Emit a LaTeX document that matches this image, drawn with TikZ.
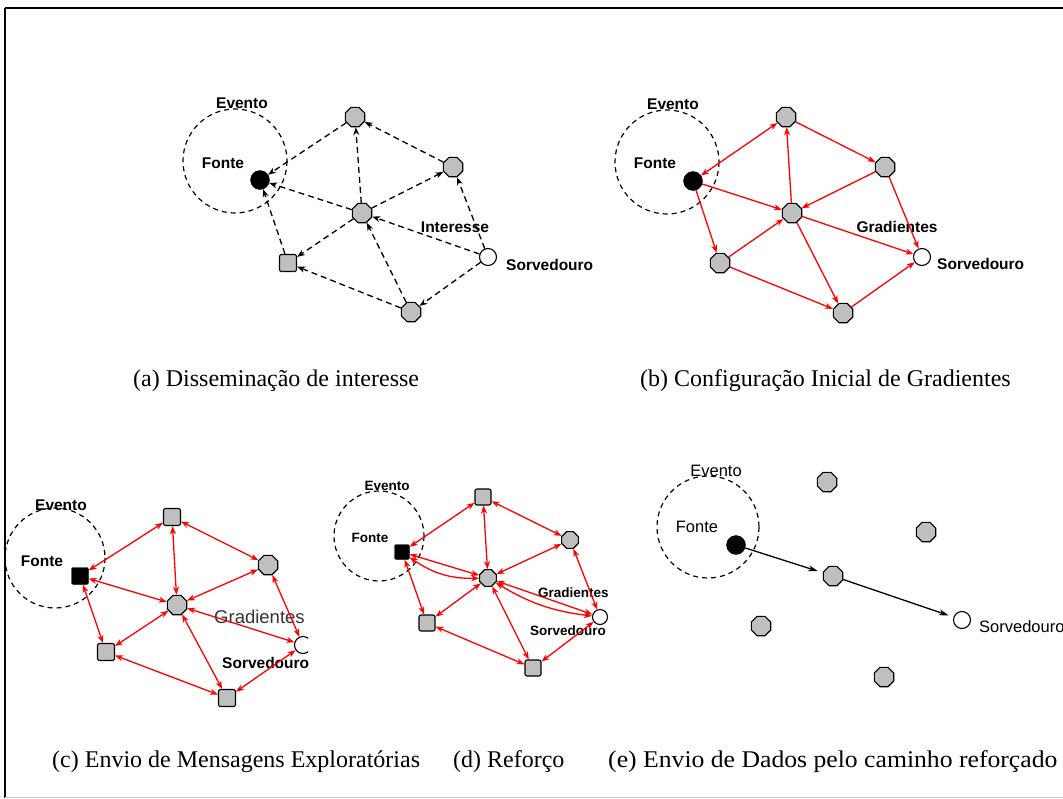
\documentclass[tikz,border=0pt]{standalone}
\usepackage{fontspec}
\setmainfont{Liberation Serif}
\setsansfont{Liberation Sans}
\usetikzlibrary{arrows.meta,shapes.geometric}
\tikzset{
  gnode/.style={regular polygon,regular polygon sides=8,draw=black,fill=gray!50,line width=1.1pt,minimum size=21pt,inner sep=0pt},
  gsq/.style={rectangle,rounded corners=2pt,draw=black,fill=gray!50,line width=1.1pt,minimum size=17pt,inner sep=0pt},
  srcnode/.style={circle,fill=black,draw=black,minimum size=19pt,inner sep=0pt},
  srcsq/.style={rectangle,rounded corners=2pt,fill=black,draw=black,minimum size=17pt,inner sep=0pt},
  snk/.style={circle,draw=black,fill=white,line width=1.1pt,minimum size=17pt,inner sep=0pt},
  evc/.style={draw=black,dashed,dash pattern=on 5pt off 4pt,line width=1.2pt},
  lbl/.style={font=\sffamily\bfseries\fontsize{15.5}{17}\selectfont,inner sep=0pt},
  dlbl/.style={font=\sffamily\bfseries\fontsize{13.5}{15}\selectfont,inner sep=0pt},
  elbl/.style={font=\sffamily\fontsize{16.5}{18}\selectfont,inner sep=0pt},
  captext/.style={font=\fontsize{24}{27}\selectfont,anchor=west,inner sep=0pt},
  tipend/.style={-{Stealth[length=8pt,width=6pt]}},
  btipend/.style={{Stealth[length=8pt,width=6pt]}-{Stealth[length=8pt,width=6pt]}},
  da/.style={tipend,draw=black,dashed,dash pattern=on 6pt off 4pt,line width=1.3pt},
  ra/.style={tipend,draw=red,line width=1.3pt},
  rb/.style={btipend,draw=red,line width=1.3pt},
  ka/.style={-{Stealth[length=10pt,width=6pt]},draw=black,line width=1.3pt,shorten >=5pt},
}
\begin{document}
\begin{tikzpicture}[x=1pt,y=-1pt]
\useasboundingbox (0,0) rectangle (1063,798);
% frame
\draw[line width=2pt] (5,8) -- (1063,8);
\draw[line width=2pt] (5,8) -- (5,798);
\draw[gray!40,line width=1pt] (5,797) -- (1063,797);

% ---------------- panel (a)
\draw[evc] (235,161) circle (52);
\node[lbl] (aev) at (242,103) {Evento};
\node[lbl] (afo) at (223,163) {Fonte};
\node[srcnode] (a0) at (260,180) {};
\node[gnode] (a1) at (355,117) {};
\node[gnode] (a2) at (453,167) {};
\node[gnode] (a3) at (362,213) {};
\node[gsq] (a4) at (288,263) {};
\node[gnode] (a5) at (411,312) {};
\node[snk] (as) at (488,257) {};
\node[lbl] (ain) at (455,227) {Interesse};
\node[lbl,anchor=west] (aso) at (506,265) {Sorvedouro};
\draw[da] (as) -- (a3);
\draw[da] (as) -- (a2);
\draw[da] (as) -- (a5);
\draw[da] (a2) -- (a1);
\draw[da] (a3) -- (a2);
\draw[da] (a3) -- (a1);
\draw[da] (a3) -- (a0);
\draw[da] (a3) -- (a4);
\draw[da] (a5) -- (a3);
\draw[da] (a5) -- (a4);
\draw[da] (a1) -- (a0);
\draw[da] (a4) -- (a0);
\node[captext] (acap) at (133,381) {(a) Disseminação de interesse};

% ---------------- panel (b)
\draw[evc] (667,162) circle (52);
\node[lbl] (bev) at (673,104) {Evento};
\node[lbl] (bfo) at (655,163) {Fonte};
\node[srcnode] (b0) at (693,181) {};
\node[gnode] (b1) at (786,117) {};
\node[gnode] (b2) at (885,167) {};
\node[gnode] (b3) at (792,213) {};
\node[gnode] (b4) at (720,263) {};
\node[gnode] (b5) at (843,313) {};
\node[snk] (bs) at (922,257) {};
\node[lbl] (bgr) at (897,227) {Gradientes};
\node[lbl,anchor=west] (bso) at (937,264) {Sorvedouro};
\draw[rb] (b0) -- (b1);
\draw[ra] (b1) -- (b2);
\draw[ra] (b3) -- (b1);
\draw[ra] (b2) -- (b3);
\draw[ra] (b0) -- (b3);
\draw[ra] (b0) -- (b4);
\draw[ra] (b4) -- (b3);
\draw[ra] (b3) -- (bs);
\draw[ra] (b3) -- (b5);
\draw[ra] (b2) -- (bs);
\draw[ra] (b4) -- (b5);
\draw[ra] (b5) -- (bs);
\node[captext] (bcap) at (640,381) {(b) Configuração Inicial de Gradientes};

% ---------------- panel (c)
\begin{scope}
\clip (0,410) rectangle (308,730);
\draw[evc] (55,558) circle (50);
\node[lbl] (cev) at (61,505) {Evento};
\node[lbl] (cfo) at (42,561) {Fonte};
\node[srcsq] (c0) at (80,576) {};
\node[gsq] (c1) at (172,517) {};
\node[gnode] (c2) at (268,565) {};
\node[gnode] (c3) at (177,605) {};
\node[gsq] (c4) at (106,652) {};
\node[gsq] (c5) at (227,698) {};
\node[snk] (cs) at (303,645) {};
\node[anchor=west,inner sep=0pt,font=\sffamily\fontsize{18.5}{20}\selectfont,text=black!80] (cgr) at (214,617) {Gradientes};
\node[lbl,anchor=west] (cso) at (222,663) {Sorvedouro};
\draw[rb] (c0) -- (c1);
\draw[rb] (c0) -- (c3);
\draw[rb] (c0) -- (c4);
\draw[rb] (c1) -- (c3);
\draw[rb] (c1) -- (c2);
\draw[rb] (c2) -- (c3);
\draw[rb] (c2) -- (cs);
\draw[rb] (c3) -- (c4);
\draw[rb] (c3) -- (cs);
\draw[rb] (c3) -- (c5);
\draw[rb] (c4) -- (c5);
\draw[rb] (c5) -- (cs);
\end{scope}
\node[captext] (ccap) at (52,762) {(c) Envio de Mensagens Exploratórias};

% ---------------- panel (d)
\begin{scope}
\clip (320,410) rectangle (608,730);
\draw[evc] (379,536) circle (45);
\node[dlbl] (dev) at (387,486) {Evento};
\node[dlbl] (dfo) at (370,538) {Fonte};
\node[srcsq,minimum size=15pt] (d0) at (402,552) {};
\node[gsq,minimum size=16pt] (d1) at (483,497) {};
\node[gnode,minimum size=18pt] (d2) at (570,540) {};
\node[gnode,minimum size=18pt] (d3) at (488,578) {};
\node[gsq,minimum size=16pt] (d4) at (427,623) {};
\node[gsq,minimum size=16pt] (d5) at (533,668) {};
\node[snk,minimum size=15pt] (ds) at (600,617) {};
\node[dlbl,anchor=west] (dgr) at (538,593) {Gradientes};
\node[dlbl,anchor=west] (dso) at (530,631) {Sorvedouro};
\draw[rb] (d0) -- (d1);
\draw[rb] (d0) -- (d3);
\draw[rb] (d0) to[bend right=18] (d3);
\draw[rb] (d0) -- (d4);
\draw[rb] (d1) -- (d3);
\draw[rb] (d1) -- (d2);
\draw[rb] (d2) -- (d3);
\draw[rb] (d2) -- (ds);
\draw[rb] (d3) -- (d4);
\draw[rb] (d3) -- (ds);
\draw[rb] (d3) to[bend right=12] (ds);
\draw[rb] (d3) -- (d5);
\draw[rb] (d4) -- (d5);
\draw[rb] (d5) -- (ds);
\end{scope}
\node[captext] (dcap) at (453,762) {(d) Reforço};

% ---------------- panel (e)
\draw[evc] (708,527) circle (51);
\node[elbl] (eev) at (716,471) {Evento};
\node[elbl] (efo) at (697,527) {Fonte};
\node[srcnode] (e0) at (736,545) {};
\node[gnode] (e1) at (827,482) {};
\node[gnode] (e2) at (926,532) {};
\node[gnode] (e3) at (833,576) {};
\node[gnode] (e4) at (761,626) {};
\node[gnode] (e5) at (884,677) {};
\node[snk] (es) at (962,620) {};
\node[elbl,anchor=west] (eso) at (979,627) {Sorvedouro};
\draw[ka] (e0) -- (e3);
\draw[ka] (e3) -- (es);
\node[captext] (ecap) at (608,762) {\scalebox{1.07}[1]{(e) Envio de Dados pelo caminho reforçado}};
\end{tikzpicture}
\end{document}
